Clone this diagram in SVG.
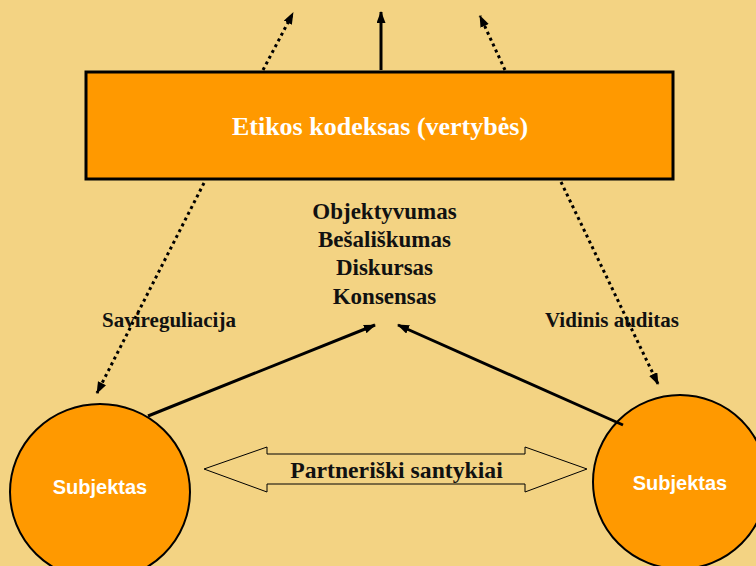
<svg xmlns="http://www.w3.org/2000/svg" width="756" height="566" viewBox="0 0 756 566">
<style>
.bg{fill:#F3D383}
.node{fill:#FF9900;stroke:#000;stroke-width:2}
.t{font-family:"Liberation Serif","Times New Roman",serif;font-weight:bold;fill:#111;text-anchor:middle}
.w{font-family:"Liberation Sans",Arial,sans-serif;font-weight:bold;fill:#fff;text-anchor:middle;font-size:20px}
.solid{stroke:#000;stroke-width:3;fill:none}
.dot{stroke:#000;stroke-width:3;fill:none;stroke-dasharray:3 3.5}
</style>
<defs>
<marker id="ah" markerUnits="userSpaceOnUse" markerWidth="12" markerHeight="10" refX="11" refY="4.5" orient="auto">
<path d="M0,0 L12,4.5 L0,9 z" fill="#000"/>
</marker>
</defs>
<rect class="bg" x="0" y="0" width="756" height="566"/>
<g id="code">
<rect x="86" y="72" width="587" height="107" fill="#FF9900" stroke="#000" stroke-width="3"/>
<text class="t" x="380" y="135" font-size="26" style="fill:#fff">Etikos kodeksas (vertybės)</text>
</g>
<g id="values">
<text class="t" x="384.5" y="219" font-size="23">Objektyvumas</text>
<text class="t" x="384.5" y="247" font-size="23">Bešališkumas</text>
<text class="t" x="384.5" y="275" font-size="23">Diskursas</text>
<text class="t" x="384.5" y="304" font-size="23">Konsensas</text>
</g>
<g id="label-left">
<text class="t" x="169" y="327" font-size="21">Savireguliacija</text>
</g>
<g id="label-right">
<text class="t" x="612" y="327" font-size="21">Vidinis auditas</text>
</g>
<g id="partnership">
<path d="M204,469 L267,447 L267,454 L525,454 L525,447 L587,469 L525,492 L525,484 L267,484 L267,492 Z" fill="#F3D383" stroke="#000" stroke-width="1"/>
<text class="t" x="396.5" y="478" font-size="23.7">Partneriški santykiai</text>
</g>
<g id="subject-left">
<ellipse class="node" cx="100" cy="492" rx="90" ry="88"/>
<text class="w" x="100" y="494">Subjektas</text>
</g>
<g id="subject-right">
<ellipse class="node" cx="680" cy="482" rx="87" ry="87"/>
<text class="w" x="680" y="490">Subjektas</text>
</g>
<g id="connectors">
<line class="solid" x1="381" y1="70" x2="381" y2="12" marker-end="url(#ah)"/>
<line class="dot" x1="263" y1="70" x2="293" y2="13" marker-end="url(#ah)"/>
<line class="dot" x1="505" y1="70" x2="480" y2="16" marker-end="url(#ah)"/>
<line class="dot" x1="204" y1="183" x2="97" y2="393" marker-end="url(#ah)"/>
<line class="dot" x1="561" y1="182" x2="658" y2="384" marker-end="url(#ah)"/>
<line class="solid" x1="148" y1="416" x2="375" y2="325" marker-end="url(#ah)"/>
<line class="solid" x1="623" y1="425" x2="398" y2="325" marker-end="url(#ah)"/>
</g>
</svg>
